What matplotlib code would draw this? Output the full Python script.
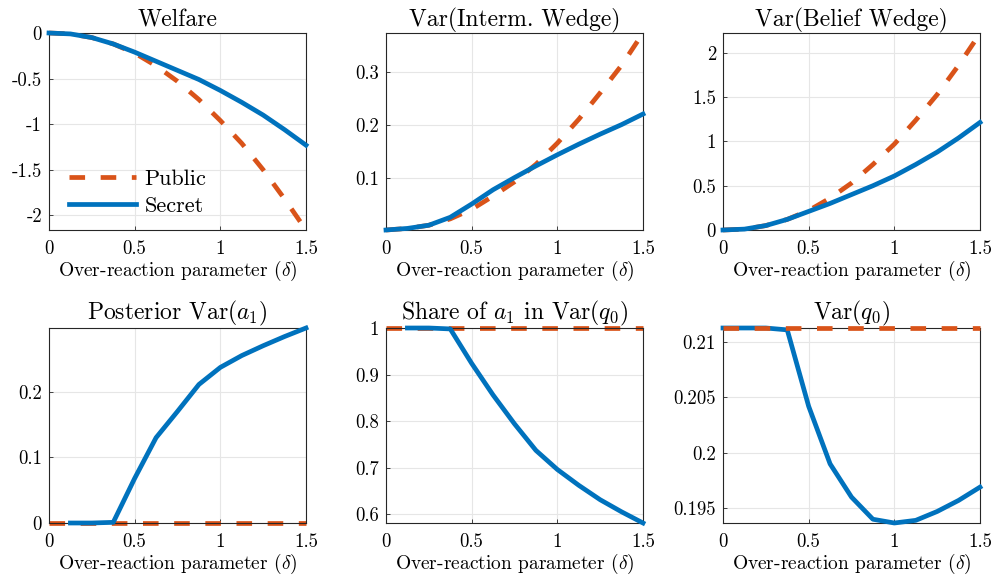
import numpy as np
import matplotlib
matplotlib.use("Agg")
import matplotlib.pyplot as plt

plt.rcParams['font.family'] = 'serif'
plt.rcParams['font.serif'] = ['cmr10']
plt.rcParams['mathtext.fontset'] = 'cm'
plt.rcParams['axes.unicode_minus'] = False

# ----------------------
# Data
# ----------------------
delta = [0, 0.125, 0.25, 0.375, 0.5, 0.625, 0.75, 0.875, 1.0, 1.125, 1.25, 1.375, 1.5]
nan = np.nan

welfare_public = [0, -0.01, -0.05, -0.12, -0.22, -0.36, -0.53, -0.73, -0.96, -1.21, -1.50, -1.82, -2.16]
welfare_secret = [0, -0.01, -0.05, -0.12, -0.21, -0.31, -0.41, -0.51, -0.63, -0.76, -0.90, -1.06, -1.23]

interm_public = [0.001, 0.004, 0.010, 0.022, 0.040, 0.065, 0.092, 0.125, 0.165, 0.210, 0.260, 0.312, 0.373]
interm_secret = [0.001, 0.004, 0.010, 0.025, 0.050, 0.077, 0.100, 0.122, 0.143, 0.163, 0.182, 0.200, 0.220]

belief_public = [0, 0.01, 0.05, 0.12, 0.22, 0.36, 0.53, 0.74, 0.97, 1.24, 1.53, 1.86, 2.22]
belief_secret = [0, 0.01, 0.05, 0.12, 0.21, 0.30, 0.40, 0.50, 0.61, 0.74, 0.88, 1.04, 1.215]

post_public = [0] * 13
post_secret = [nan, 0.0, 0.0, 0.001, 0.068, 0.130, 0.170, 0.211, 0.237, 0.255, 0.270, 0.284, 0.297]

share_public = [1] * 13
share_secret = [nan, 1.0, 1.0, 0.998, 0.924, 0.856, 0.794, 0.737, 0.696, 0.662, 0.631, 0.605, 0.581]

varq_public = [0.21127] * 13
varq_secret = [0.21127, 0.21127, 0.21127, 0.2111, 0.2042, 0.1990, 0.1960, 0.1940, 0.19366,
               0.1939, 0.1947, 0.1957, 0.1969]

blue = '#0072BD'
orange = '#D95319'

panels = [
    ("Welfare", welfare_public, welfare_secret, (-2.16, 0), [-2, -1.5, -1, -0.5, 0],
     ['-2', '-1.5', '-1', '-0.5', '0'], False),
    ("Var(Interm. Wedge)", interm_public, interm_secret, (0.001, 0.373), [0.1, 0.2, 0.3],
     ['0.1', '0.2', '0.3'], False),
    ("Var(Belief Wedge)", belief_public, belief_secret, (0, 2.225), [0, 0.5, 1, 1.5, 2],
     ['0', '0.5', '1', '1.5', '2'], False),
    (r"Posterior Var$(a_1)$", post_public, post_secret, (0, 0.297), [0, 0.1, 0.2],
     ['0', '0.1', '0.2'], False),
    (r"Share of $a_1$ in Var$(q_0)$", share_public, share_secret, (0.581, 1.0),
     [0.6, 0.7, 0.8, 0.9, 1.0], ['0.6', '0.7', '0.8', '0.9', '1'], False),
    (r"Var$(q_0)$", varq_public, varq_secret, (0.19366, 0.21127), [0.195, 0.2, 0.205, 0.21],
     ['0.195', '0.2', '0.205', '0.21'], True),
]

W, H = 996, 586
lefts = [49, 386, 723]
fig = plt.figure(figsize=(W / 100, H / 100), dpi=100)

for i, (title, pub, sec, ylim, yt, ytl, pub_on_top) in enumerate(panels):
    row, col = divmod(i, 3)
    if row == 0:
        top, bot = 33, 230
    else:
        top, bot = 328, 523
    ax = fig.add_axes([lefts[col] / W, 1 - bot / H, 257 / W, (bot - top) / H])
    ax.plot(delta, pub, color=orange, lw=3.4, dashes=(3.3, 3.3), label='Public',
            zorder=4 if pub_on_top else 2, clip_on=False)
    ax.plot(delta, sec, color=blue, lw=3.4, label='Secret', zorder=3, clip_on=False)
    ax.set_xlim(0, 1.5)
    ax.set_ylim(*ylim)
    ax.set_xticks([0, 0.5, 1, 1.5])
    ax.set_xticklabels(['0', '0.5', '1', '1.5'])
    ax.set_yticks(yt)
    ax.set_yticklabels(ytl)
    ax.tick_params(direction='in', length=3, labelsize=13.5, color='#262626', width=0.6)
    ax.tick_params(axis='x', pad=7)
    ax.tick_params(axis='y', pad=5)
    ax.grid(True, color='#e6e6e6', lw=0.8)
    ax.set_axisbelow(True)
    for s in ax.spines.values():
        s.set_color('#262626')
        s.set_linewidth(0.8)
    ax.set_title(title, fontsize=17, pad=5 if row == 0 else 3)
    ax.set_xlabel(r"Over-reaction parameter $(\delta)$", fontsize=14, labelpad=1)
    if i == 0:
        ax.legend(loc='lower left', frameon=False, fontsize=16, handlelength=3.0,
                  bbox_to_anchor=(0.0, -0.03), handletextpad=0.4, labelspacing=0.35)

fig.savefig("out.png", dpi=100)
